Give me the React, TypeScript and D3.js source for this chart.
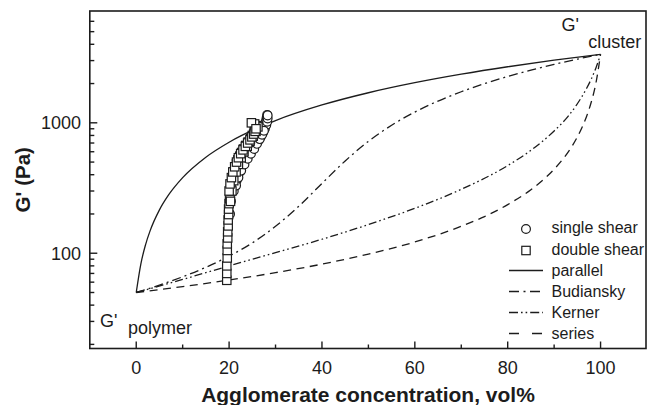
import React from 'react';
import * as d3 from 'd3';

const W = 647;
const H = 405;

// Agglomerate concentration (vol%) at which each model curve is sampled, with G' (Pa)
const parallelPhi = [0, 1, 2, 3, 5, 7, 10, 15, 20, 30, 40, 50, 60, 70, 80, 90, 100];
const parallelG = [50, 83, 116, 149, 215, 281, 380, 545, 710, 1040, 1370, 1700, 2030, 2360, 2690, 3020, 3350];

const budianskyPhi = [0, 5, 10, 15, 20, 25, 30, 35, 40, 45, 50, 55, 60, 65, 70, 75, 80, 85, 90, 95, 100];
const budianskyG = [50, 57, 66, 78, 95, 120, 161, 229, 343, 510, 721, 958, 1209, 1468, 1731, 1997, 2266, 2536, 2806, 3078, 3350];

const kernerPhi = [0, 10, 20, 30, 40, 50, 60, 70, 80, 85, 90, 93, 95, 97, 98, 99, 100];
const kernerG = [50, 63, 80, 101, 128, 166, 221, 309, 470, 615, 866, 1120, 1400, 1840, 2165, 2634, 3350];

const seriesPhi = [0, 10, 20, 30, 40, 50, 60, 70, 75, 80, 85, 88, 90, 92, 94, 95, 96, 97, 98, 99, 100];
const seriesG = [50, 55.5, 62.3, 71, 82.5, 98.5, 122, 161, 191, 236, 307, 375, 441, 533, 675, 779, 920, 1124, 1443, 2016, 3350];

// Measured data: single shear
const singlePhi = [
  20.2, 20.4, 20.6, 20.9, 21.3, 21.8, 22.4, 23.0, 23.6, 24.3, 25.0, 25.7, 26.3, 26.9, 27.3, 27.6, 27.8, 28.0, 28.1, 28.2,
  21.0, 21.6, 22.3, 23.1, 23.9, 24.7, 25.5, 26.2, 26.8, 27.3, 27.7, 28.0, 28.2, 28.3, 28.3,
  21.5, 22.0, 22.6, 23.3, 24.0, 24.7, 25.4, 26.0, 26.6, 27.1, 27.5,
];
const singleG = [
  200, 250, 300, 355, 410, 465, 520, 575, 630, 690, 750, 810, 860, 900, 930, 960, 1000, 1050, 1100, 1150,
  300, 360, 420, 480, 540, 600, 660, 720, 780, 840, 900, 960, 1020, 1080, 1140,
  330, 380, 430, 480, 530, 580, 630, 690, 750, 810, 870,
];

// Measured data: double shear
const doublePhi = [
  19.5, 19.5, 19.5, 19.6, 19.6, 19.6, 19.7, 19.7, 19.8, 19.8, 19.9, 19.9, 20.0, 20.1, 20.2, 20.3, 20.4, 20.6, 20.8, 21.0,
  21.3, 21.6, 21.9, 22.3, 22.7, 23.1, 23.6, 24.1, 24.6, 25.0, 25.4, 25.7, 25.9,
  20.3, 20.6, 21.0, 21.5, 22.0, 22.6, 23.2, 23.9, 24.5, 25.2, 25.8, 26.2, 25.5, 24.8,
  20.0, 20.2, 20.5, 20.8, 21.2, 21.6, 22.0, 22.5, 23.0, 23.5, 24.0, 24.5, 24.9, 25.3, 25.6, 25.8,
];
const doubleG = [
  62, 70, 80, 92, 105, 118, 131, 146, 162, 180, 198, 218, 240, 262, 285, 310, 335, 362, 390, 420,
  452, 485, 520, 555, 592, 630, 670, 712, 755, 800, 850, 900, 950,
  250, 300, 360, 420, 480, 540, 600, 660, 720, 790, 860, 930, 980, 1000,
  300, 340, 380, 420, 460, 500, 540, 580, 620, 660, 700, 740, 780, 820, 860, 900,
];

const xMajorTicks = [0, 20, 40, 60, 80, 100];
const xMinorTicks = [10, 30, 50, 70, 90];
const yMajorTicks = [100, 1000];

const legendLabels = ['single shear', 'double shear', 'parallel', 'Budiansky', 'Kerner', 'series'];

const FONT = "'Liberation Sans', Arial, Helvetica, sans-serif";
const INK = '#1c1c1c';

const DASH_BUDIANSKY = '9 4 2 4';
const DASH_KERNER = '8 3 1.6 3 1.6 3';
const DASH_SERIES = '8 5.5';

export default function App() {
  const x = d3.scaleLinear().domain([-10, 110]).range([89.8, 647]);
  const y = d3.scaleLog().domain([18.6, 7200]).range([348.5, 11]);

  const left = x(-10);
  const right = 646;
  const top = y(7200);
  const bottom = y(18.6);

  const line = d3
    .line<[number, number]>()
    .x((d) => x(d[0]))
    .y((d) => y(d[1]))
    .curve(d3.curveMonotoneX);

  const zip = (a: number[], b: number[]) => a.map((v, i) => [v, b[i]] as [number, number]);

  const yMinor: number[] = [];
  [10, 100, 1000].forEach((dec) => {
    for (let m = 2; m <= 9; m++) {
      const v = m * dec;
      const py = y(v);
      if (py > top + 3 && py < bottom - 2) yMinor.push(v);
    }
  });

  const curves = [
    { data: zip(parallelPhi, parallelG), dash: undefined },
    { data: zip(budianskyPhi, budianskyG), dash: DASH_BUDIANSKY },
    { data: zip(kernerPhi, kernerG), dash: DASH_KERNER },
    { data: zip(seriesPhi, seriesG), dash: DASH_SERIES },
  ];

  const legendX = 526;
  const legendTextX = 551.5;
  const legendBase = [233, 254.5, 276, 297, 318, 339];
  const legendDash = [null, null, undefined, '10 4.5 2 4.5', '9 3 1.6 3 1.6 3', '10 13'];

  return (
    <svg
      width={W}
      height={H}
      style={{ position: 'absolute', left: 0, top: 0, background: '#fff' }}
      fontFamily={FONT}
    >
      <rect x={0} y={0} width={W} height={H} fill="#fff" />

      {/* model curves */}
      {curves.map((c, i) => (
        <path
          key={i}
          d={line(c.data) || ''}
          fill="none"
          stroke={INK}
          strokeWidth={1.3}
          strokeDasharray={c.dash}
        />
      ))}

      {/* measured points: single shear (circles) below, double shear (squares) above */}
      {singlePhi.map((p, i) => (
        <circle
          key={'c' + i}
          cx={x(p)}
          cy={y(singleG[i])}
          r={4.4}
          fill="#fff"
          stroke={INK}
          strokeWidth={1.2}
        />
      ))}
      {doublePhi.map((p, i) => (
        <rect
          key={'s' + i}
          x={x(p) - 4.2}
          y={y(doubleG[i]) - 4.2}
          width={8.4}
          height={8.4}
          fill="#fff"
          stroke={INK}
          strokeWidth={1.2}
        />
      ))}

      {/* frame */}
      <rect x={left} y={top} width={right - left} height={bottom - top} fill="none" stroke={INK} strokeWidth={1.6} />

      {/* x ticks */}
      {xMajorTicks.map((t) => (
        <g key={'xm' + t}>
          <line x1={x(t)} x2={x(t)} y1={bottom} y2={bottom - 7} stroke={INK} strokeWidth={1.4} />
          <text x={x(t)} y={373.5} fontSize={18} textAnchor="middle" fill={INK}>
            {t}
          </text>
        </g>
      ))}
      {xMinorTicks.map((t) => (
        <line key={'xn' + t} x1={x(t)} x2={x(t)} y1={bottom} y2={bottom - 4} stroke={INK} strokeWidth={1.4} />
      ))}

      {/* y ticks */}
      {yMajorTicks.map((t) => (
        <g key={'ym' + t}>
          <line x1={left} x2={left + 7.5} y1={y(t)} y2={y(t)} stroke={INK} strokeWidth={1.4} />
          <text x={81} y={y(t) + 6.5} fontSize={18} textAnchor="end" fill={INK}>
            {t}
          </text>
        </g>
      ))}
      {yMinor.map((t) => (
        <line key={'yn' + t} x1={left} x2={left + 4.5} y1={y(t)} y2={y(t)} stroke={INK} strokeWidth={1.4} />
      ))}

      {/* axis titles */}
      <text x={368} y={401.5} fontSize={21} fontWeight="bold" textAnchor="middle" fill={INK}>
        Agglomerate concentration, vol%
      </text>
      <text
        transform={`translate(29.5, ${(top + bottom) / 2}) rotate(-90)`}
        fontSize={20.5}
        fontWeight="bold"
        textAnchor="middle"
        fill={INK}
      >
        G' (Pa)
      </text>

      {/* end-point annotations */}
      <text x={561.5} y={31} fontSize={18} fill={INK}>G'</text>
      <text x={588.3} y={48} fontSize={18} fill={INK}>cluster</text>
      <text x={100} y={327} fontSize={18} fill={INK}>G'</text>
      <text x={128} y={334} fontSize={18} fill={INK}>polymer</text>

      {/* legend */}
      {legendLabels.map((lab, i) => {
        const b = legendBase[i];
        let sym: React.ReactNode = null;
        if (i === 0) {
          sym = <circle cx={legendX} cy={b - 4} r={4.4} fill="#fff" stroke={INK} strokeWidth={1.2} />;
        } else if (i === 1) {
          sym = (
            <rect x={legendX - 4.2} y={b - 8.2} width={8.4} height={8.4} fill="#fff" stroke={INK} strokeWidth={1.2} />
          );
        } else {
          sym = (
            <line
              x1={509}
              x2={543}
              y1={b - 5.5}
              y2={b - 5.5}
              stroke={INK}
              strokeWidth={1.3}
              strokeDasharray={legendDash[i] || undefined}
            />
          );
        }
        return (
          <g key={lab}>
            {sym}
            <text x={legendTextX} y={b} fontSize={16} fill={INK}>
              {lab}
            </text>
          </g>
        );
      })}
    </svg>
  );
}
